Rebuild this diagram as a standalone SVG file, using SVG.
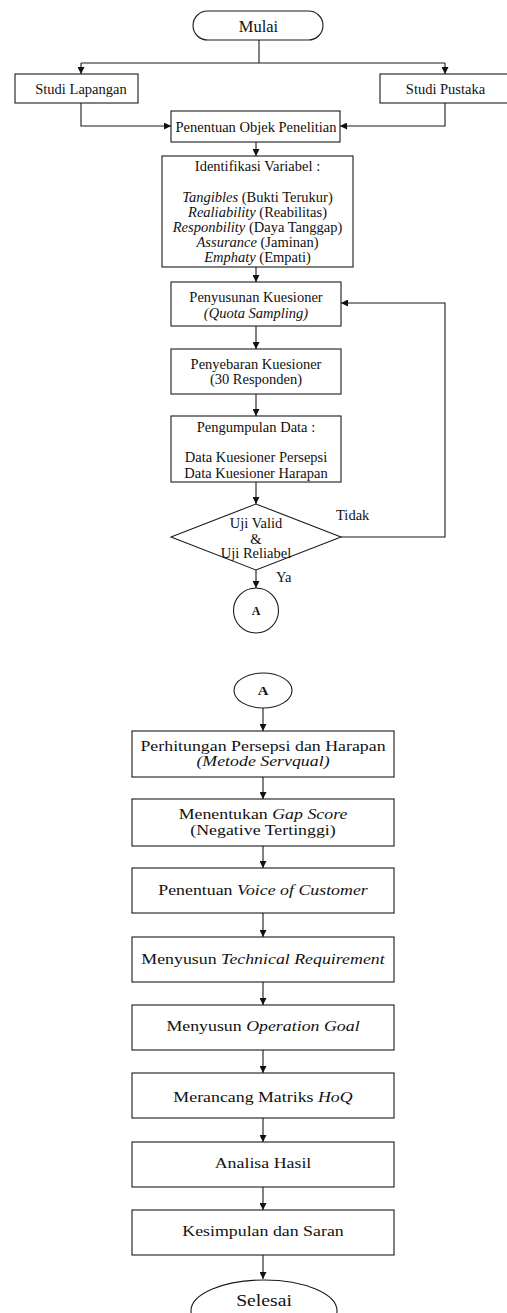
<svg xmlns="http://www.w3.org/2000/svg" width="507" height="1313" viewBox="0 0 507 1313">
  <style>
    .box { fill: #fff; stroke: #1a1a1a; stroke-width: 1.1; }
    .ln { fill: none; stroke: #1a1a1a; stroke-width: 1.1; }
    .t { font-family: "Liberation Serif", "Times New Roman", serif; font-size: 14.5px; fill: #111; text-anchor: middle; }
    .i { font-style: italic; }
    .b { font-weight: bold; font-size: 12px; }
  </style>
  <defs>
    <marker id="arr" viewBox="0 0 10 10" refX="10" refY="5" markerWidth="7" markerHeight="7" markerUnits="userSpaceOnUse" orient="auto">
      <path d="M0,0 L10,5 L0,10 z" fill="#111"/>
    </marker>
  </defs>

  <!-- connectors -->
  <g id="connectors" class="ln">
    <path d="M259,40 V63"/>
    <path d="M81,63 H445"/>
    <path d="M81,63 V74" marker-end="url(#arr)"/>
    <path d="M445,63 V74" marker-end="url(#arr)"/>
    <path d="M81,103 V126 H171" marker-end="url(#arr)"/>
    <path d="M445,103 V126 H340" marker-end="url(#arr)"/>
    <path d="M256,142 V156" marker-end="url(#arr)"/>
    <path d="M256,267 V282" marker-end="url(#arr)"/>
    <path d="M256,326 V349" marker-end="url(#arr)"/>
    <path d="M256,394 V416" marker-end="url(#arr)"/>
    <path d="M256,482 V504" marker-end="url(#arr)"/>
    <path d="M341,537 H445 V303 H341" marker-end="url(#arr)"/>
    <path d="M256,570 V588" marker-end="url(#arr)"/>
    <path d="M263,708 V731" marker-end="url(#arr)"/>
    <path d="M263,777 V799" marker-end="url(#arr)"/>
    <path d="M263,846 V868" marker-end="url(#arr)"/>
    <path d="M263,913 V937" marker-end="url(#arr)"/>
    <path d="M263,982 V1005" marker-end="url(#arr)"/>
    <path d="M263,1050 V1073" marker-end="url(#arr)"/>
    <path d="M263,1118 V1142" marker-end="url(#arr)"/>
    <path d="M263,1187 V1210" marker-end="url(#arr)"/>
    <path d="M263,1255 V1279" marker-end="url(#arr)"/>
  </g>
  <g id="edge-labels" class="t" style="text-anchor:start">
    <text x="336" y="520">Tidak</text>
    <text x="276" y="582">Ya</text>
  </g>

  <!-- upper page -->
  <g id="mulai">
    <rect class="box" x="193" y="11" width="130" height="29" rx="14.5"/>
    <text class="t" x="258.5" y="31.5" style="font-size:16.5px">Mulai</text>
  </g>
  <g id="studi-lapangan">
    <rect class="box" x="15" y="74" width="123" height="29"/>
    <text class="t" x="81" y="93.5">Studi Lapangan</text>
  </g>
  <g id="studi-pustaka">
    <rect class="box" x="380" y="74" width="131" height="29"/>
    <text class="t" x="445.5" y="93.5">Studi Pustaka</text>
  </g>
  <g id="objek">
    <rect class="box" x="171" y="111" width="169" height="31"/>
    <text class="t" x="256" y="131.5">Penentuan Objek Penelitian</text>
  </g>
  <g id="variabel">
    <rect class="box" x="162" y="156" width="191" height="111"/>
    <text class="t" x="257.5" y="170.5">Identifikasi Variabel :</text>
    <text class="t" x="257.5" y="201.5"><tspan class="i">Tangibles</tspan> (Bukti Terukur)</text>
    <text class="t" x="257.5" y="216.5"><tspan class="i">Realiability</tspan> (Reabilitas)</text>
    <text class="t" x="257.5" y="231.5"><tspan class="i">Responbility</tspan> (Daya Tanggap)</text>
    <text class="t" x="257.5" y="246.5"><tspan class="i">Assurance</tspan> (Jaminan)</text>
    <text class="t" x="257.5" y="261.5"><tspan class="i">Emphaty</tspan> (Empati)</text>
  </g>
  <g id="penyusunan">
    <rect class="box" x="171" y="282" width="170" height="44"/>
    <text class="t" x="256" y="301.5">Penyusunan Kuesioner</text>
    <text class="t i" x="256" y="317.5">(Quota Sampling)</text>
  </g>
  <g id="penyebaran">
    <rect class="box" x="171" y="349" width="170" height="45"/>
    <text class="t" x="256" y="368.5">Penyebaran Kuesioner</text>
    <text class="t" x="256" y="383.5">(30 Responden)</text>
  </g>
  <g id="pengumpulan">
    <rect class="box" x="171" y="416" width="170" height="66"/>
    <text class="t" x="256" y="431.5">Pengumpulan Data :</text>
    <text class="t" x="256" y="461.5">Data Kuesioner Persepsi</text>
    <text class="t" x="256" y="478">Data Kuesioner Harapan</text>
  </g>
  <g id="uji">
    <polygon class="box" points="171,537 256,504 341,537 256,570"/>
    <text class="t" x="256" y="527.5">Uji Valid</text>
    <text class="t" x="256" y="543.5">&amp;</text>
    <text class="t" x="256" y="557.5">Uji Reliabel</text>
  </g>
  <g id="konektor-a1">
    <circle class="box" cx="256" cy="610.5" r="22.5"/>
    <text class="t b" x="256" y="615">A</text>
  </g>

  <!-- lower page -->
  <g id="konektor-a2">
    <ellipse class="box" cx="263" cy="690.5" rx="29" ry="17.5"/>
    <text class="t b" transform="translate(263 695) scale(1.23 1)">A</text>
  </g>
  <g id="servqual">
    <rect class="box" x="132" y="731" width="262" height="46"/>
    <g transform="translate(263 0) scale(1.23 1)">
      <text class="t" y="751.5">Perhitungan Persepsi dan Harapan</text>
      <text class="t i" y="766.5">(Metode Servqual)</text>
    </g>
  </g>
  <g id="gap-score">
    <rect class="box" x="132" y="799" width="262" height="47"/>
    <g transform="translate(263 0) scale(1.23 1)">
      <text class="t" y="819.5">Menentukan <tspan class="i">Gap Score</tspan></text>
      <text class="t" y="835.5">(Negative Tertinggi)</text>
    </g>
  </g>
  <g id="voc">
    <rect class="box" x="132" y="868" width="262" height="45"/>
    <g transform="translate(263 0) scale(1.23 1)">
      <text class="t" y="895.5">Penentuan <tspan class="i">Voice of Customer</tspan></text>
    </g>
  </g>
  <g id="technical">
    <rect class="box" x="132" y="937" width="262" height="45"/>
    <g transform="translate(263 0) scale(1.23 1)">
      <text class="t" y="964.5">Menyusun <tspan class="i">Technical Requirement</tspan></text>
    </g>
  </g>
  <g id="operation">
    <rect class="box" x="132" y="1005" width="262" height="45"/>
    <g transform="translate(263 0) scale(1.23 1)">
      <text class="t" y="1031.5">Menyusun <tspan class="i">Operation Goal</tspan></text>
    </g>
  </g>
  <g id="hoq">
    <rect class="box" x="132" y="1073" width="262" height="45"/>
    <g transform="translate(263 0) scale(1.23 1)">
      <text class="t" y="1102.5">Merancang Matriks <tspan class="i">HoQ</tspan></text>
    </g>
  </g>
  <g id="analisa">
    <rect class="box" x="132" y="1142" width="262" height="45"/>
    <g transform="translate(263 0) scale(1.23 1)">
      <text class="t" y="1168.5">Analisa Hasil</text>
    </g>
  </g>
  <g id="kesimpulan">
    <rect class="box" x="132" y="1210" width="262" height="45"/>
    <g transform="translate(263 0) scale(1.23 1)">
      <text class="t" y="1236.5">Kesimpulan dan Saran</text>
    </g>
  </g>
  <g id="selesai">
    <ellipse class="box" cx="264" cy="1311" rx="73" ry="31"/>
    <g transform="translate(264 0) scale(1.23 1)">
      <text class="t" y="1306.5" style="font-size:16px">Selesai</text>
    </g>
  </g>
</svg>
